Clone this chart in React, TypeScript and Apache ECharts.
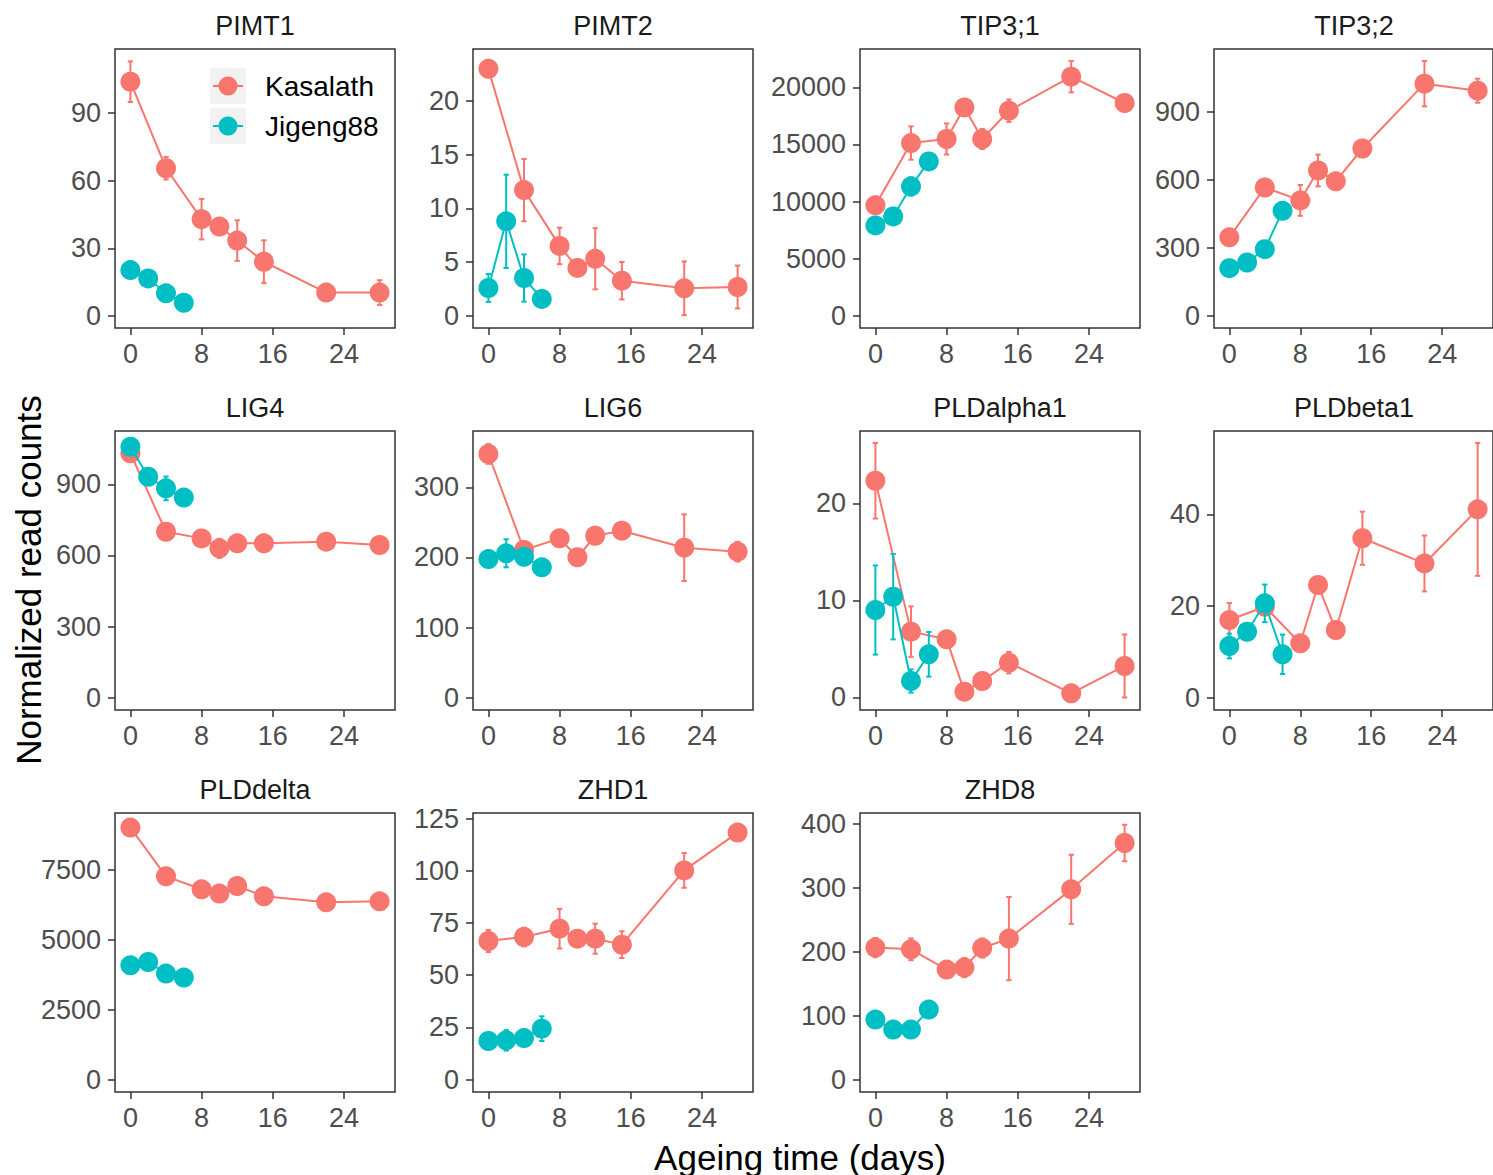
import React, { useEffect, useRef } from "react";
import * as echarts from "echarts";

// ---------- data ----------
const GENES = ["PIMT1", "PIMT2", "TIP3;1", "TIP3;2", "LIG4", "LIG6", "PLDalpha1", "PLDbeta1", "PLDdelta", "ZHD1", "ZHD8"];
const CULTIVARS = ["Kasalath", "Jigeng88"];
const KAS_TIMES = [0, 4, 8, 10, 12, 15, 22, 28];
const JIG_TIMES = [0, 2, 4, 6];
const X_TICKS = [0, 8, 16, 24];

const KAS_MEANS = [
  [104, 65.6, 43, 39.7, 33.5, 24.1, 10.4, 10.4],
  [23.0, 11.7, 6.5, 4.45, 5.3, 3.26, 2.55, 2.67],
  [9665, 15125, 15479, 18247, 15479, 17958, 20936, 18632],
  [346, 566, 509, 641, 593, 738, 1024, 993],
  [1031, 700, 672, 630, 651, 651, 658, 644],
  [347.6, 210.7, 227.3, 200.3, 231, 238.2, 214, 208.3],
  [22.33, 6.77, 5.98, 0.58, 1.68, 3.57, 0.41, 3.23],
  [16.95, 19.86, 11.87, 24.6, 14.77, 34.8, 29.3, 41.1],
  [9027, 7282, 6817, 6663, 6935, 6566, 6351, 6387],
  [66.4, 68.3, 72.3, 67.5, 67.5, 64.65, 100.2, 118.3],
  [206.3, 203.6, 171.9, 175, 205.6, 220.3, 297.3, 369.7],
];
const KAS_SE = [
  [9, 5, 9, 1.5, 9, 9.5, 1.5, 5.5],
  [0.5, 2.9, 1.7, 0.5, 2.85, 1.75, 2.5, 2.0],
  [400, 1460, 1360, 400, 880, 980, 1370, 400],
  [15, 15, 68, 70, 15, 15, 100, 53],
  [20, 15, 15, 40, 15, 30, 15, 15],
  [14, 5, 5, 5, 5, 5, 47.5, 14],
  [3.9, 2.6, 0.4, 0.3, 0.3, 1.1, 0.3, 3.25],
  [3.7, 0.8, 0.6, 0.6, 0.6, 5.8, 6.1, 14.5],
  [100, 100, 100, 100, 100, 200, 100, 100],
  [5.3, 4.5, 9.5, 1, 7.2, 6.4, 8.3, 1.5],
  [15, 17, 5, 15, 15, 65, 54, 28.5],
];
const JIG_MEANS = [
  [20.4, 16.7, 10.1, 5.9],
  [2.58, 8.79, 3.51, 1.56],
  [7910, 8699, 11327, 13517],
  [210, 235, 294, 463],
  [1059, 932, 883, 844],
  [197.8, 206, 201, 186],
  [9.0, 10.37, 1.68, 4.43],
  [11.28, 14.4, 20.6, 9.47],
  [4094, 4213, 3797, 3654],
  [18.5, 18.8, 19.9, 24.4],
  [93.75, 78.1, 78.1, 109.4],
];
const JIG_SE = [
  [1.5, 1.5, 1.5, 1],
  [1.3, 4.35, 2.2, 0.6],
  [300, 300, 800, 300],
  [10, 10, 35, 10],
  [15, 20, 50, 15],
  [4, 20, 5, 4],
  [4.6, 4.4, 1.2, 2.3],
  [2.7, 0.6, 4.1, 4.3],
  [80, 80, 80, 80],
  [1, 4.9, 1, 5.9],
  [4, 4, 4, 4, 4],
];
const Y_TICKS = [
  [0, 30, 60, 90],
  [0, 5, 10, 15, 20],
  [0, 5000, 10000, 15000, 20000],
  [0, 300, 600, 900],
  [0, 300, 600, 900],
  [0, 100, 200, 300],
  [0, 10, 20],
  [0, 20, 40],
  [0, 2500, 5000, 7500],
  [0, 25, 50, 75, 100, 125],
  [0, 100, 200, 300, 400],
];
const Y_LIMITS = [
  [-5.3, 118.5],
  [-1.15, 24.85],
  [-1078, 23363],
  [-54, 1177],
  [-52, 1125],
  [-17.5, 380.4],
  [-1.31, 27.46],
  [-2.68, 58.2],
  [-444, 9550],
  [-5.94, 127.7],
  [-19.4, 416.6],
];
const X_LIMITS = [-1.73, 29.73];

// ---------- styling / layout ----------
const COLORS = ["#F8766D", "#00BFC4"];
const FONT = '"Liberation Sans", Arial, Helvetica, sans-serif';
const COL_LEFT = [115, 473, 860, 1214];
const ROW_TOP = [49, 431, 813];
const PW = 280;
const PH = 279;

function errorBarRender(color: string) {
  return (params: any, api: any) => {
    const x = api.value(0);
    const lo = api.value(1);
    const hi = api.value(2);
    const p1 = api.coord([x, lo]);
    const p2 = api.coord([x, hi]);
    const hw = api.size([0.6, 0])[0] / 2;
    const style = { stroke: color, lineWidth: 2 };
    return {
      type: "group",
      children: [
        { type: "line", shape: { x1: p1[0], y1: p1[1], x2: p2[0], y2: p2[1] }, style },
        { type: "line", shape: { x1: p1[0] - hw, y1: p1[1], x2: p1[0] + hw, y2: p1[1] }, style },
        { type: "line", shape: { x1: p2[0] - hw, y1: p2[1], x2: p2[0] + hw, y2: p2[1] }, style },
      ],
    };
  };
}

function buildOption() {
  const grids: any[] = [];
  const xAxes: any[] = [];
  const yAxes: any[] = [];
  const series: any[] = [];
  const graphics: any[] = [];

  GENES.forEach((gene, i) => {
    const col = i % 4;
    const row = Math.floor(i / 4);
    const left = COL_LEFT[col];
    const top = ROW_TOP[row];
    grids.push({
      left,
      top,
      width: PW,
      height: PH,
      show: true,
      borderColor: "#333333",
      borderWidth: 1.5,
      backgroundColor: "#ffffff",
    });
    xAxes.push({
      type: "value",
      gridIndex: i,
      min: X_LIMITS[0],
      max: X_LIMITS[1],
      axisLine: { show: false, onZero: false },
      axisTick: { show: true, length: 7, lineStyle: { color: "#333333", width: 1.5 }, customValues: X_TICKS },
      axisLabel: {
        customValues: X_TICKS,
        fontSize: 27,
        color: "#4D4D4D",
        fontFamily: FONT,
        margin: 12,
        formatter: (v: number) => String(v),
      },
      splitLine: { show: false },
    });
    yAxes.push({
      type: "value",
      gridIndex: i,
      min: Y_LIMITS[i][0],
      max: Y_LIMITS[i][1],
      axisLine: { show: false, onZero: false },
      axisTick: { show: true, length: 7, lineStyle: { color: "#333333", width: 1.5 }, customValues: Y_TICKS[i] },
      axisLabel: {
        customValues: Y_TICKS[i],
        fontSize: 27,
        color: "#4D4D4D",
        fontFamily: FONT,
        margin: 14,
        formatter: (v: number) => String(v),
      },
      splitLine: { show: false },
    });

    const groups = [
      { times: KAS_TIMES, means: KAS_MEANS[i], se: KAS_SE[i], color: COLORS[0], name: CULTIVARS[0] },
      { times: JIG_TIMES, means: JIG_MEANS[i], se: JIG_SE[i], color: COLORS[1], name: CULTIVARS[1] },
    ];
    groups.forEach((g, k) => {
      series.push({
        type: "line",
        name: g.name,
        xAxisIndex: i,
        yAxisIndex: i,
        data: g.times.map((t, j) => [t, g.means[j]]),
        symbol: "circle",
        symbolSize: 20,
        showSymbol: true,
        itemStyle: { color: g.color },
        lineStyle: { color: g.color, width: 2 },
        z: 2 + k * 2,
      });
      series.push({
        type: "custom",
        name: g.name + " SE",
        xAxisIndex: i,
        yAxisIndex: i,
        data: g.times.map((t, j) => [t, g.means[j] - g.se[j], g.means[j] + g.se[j]]),
        encode: { x: 0, y: [1, 2] },
        renderItem: errorBarRender(g.color),
        z: 3 + k * 2,
      });
    });

    graphics.push({
      type: "text",
      x: left + PW / 2,
      y: top - 23,
      style: {
        text: gene,
        fill: "#1A1A1A",
        font: `27px ${FONT}`,
        align: "center",
        verticalAlign: "middle",
      },
    });
  });

  // axis titles
  graphics.push({
    type: "text",
    x: 800,
    y: 1157,
    style: { text: "Ageing time (days)", fill: "#000000", font: `35px ${FONT}`, align: "center", verticalAlign: "middle" },
  });
  graphics.push({
    type: "text",
    x: 28,
    y: 580,
    rotation: Math.PI / 2,
    style: { text: "Normalized read counts", fill: "#000000", font: `35px ${FONT}`, align: "center", verticalAlign: "middle" },
  });

  // legend inside first panel
  const legendY = [86, 126];
  CULTIVARS.forEach((name, k) => {
    const cy = legendY[k];
    graphics.push({ type: "rect", shape: { x: 210, y: cy - 18, width: 36, height: 36 }, style: { fill: "#F2F2F2" }, z: 10 });
    graphics.push({
      type: "line",
      shape: { x1: 213, y1: cy, x2: 243, y2: cy },
      style: { stroke: COLORS[k], lineWidth: 2 },
      z: 11,
    });
    graphics.push({ type: "circle", shape: { cx: 228, cy, r: 9.5 }, style: { fill: COLORS[k] }, z: 12 });
    graphics.push({
      type: "text",
      x: 265,
      y: cy,
      style: { text: name, fill: "#000000", font: `28px ${FONT}`, align: "left", verticalAlign: "middle" },
      z: 12,
    });
  });

  return {
    animation: false,
    backgroundColor: "#ffffff",
    grid: grids,
    xAxis: xAxes,
    yAxis: yAxes,
    series,
    graphic: graphics,
  };
}

export default function App() {
  const ref = useRef<HTMLDivElement | null>(null);
  useEffect(() => {
    if (!ref.current) return;
    const chart = echarts.init(ref.current, null, { renderer: "svg" });
    chart.setOption(buildOption() as any);
    return () => chart.dispose();
  }, []);
  return (
    <div
      ref={ref}
      style={{ position: "absolute", left: 0, top: 0, width: 1493, height: 1175, background: "#ffffff" }}
    />
  );
}
